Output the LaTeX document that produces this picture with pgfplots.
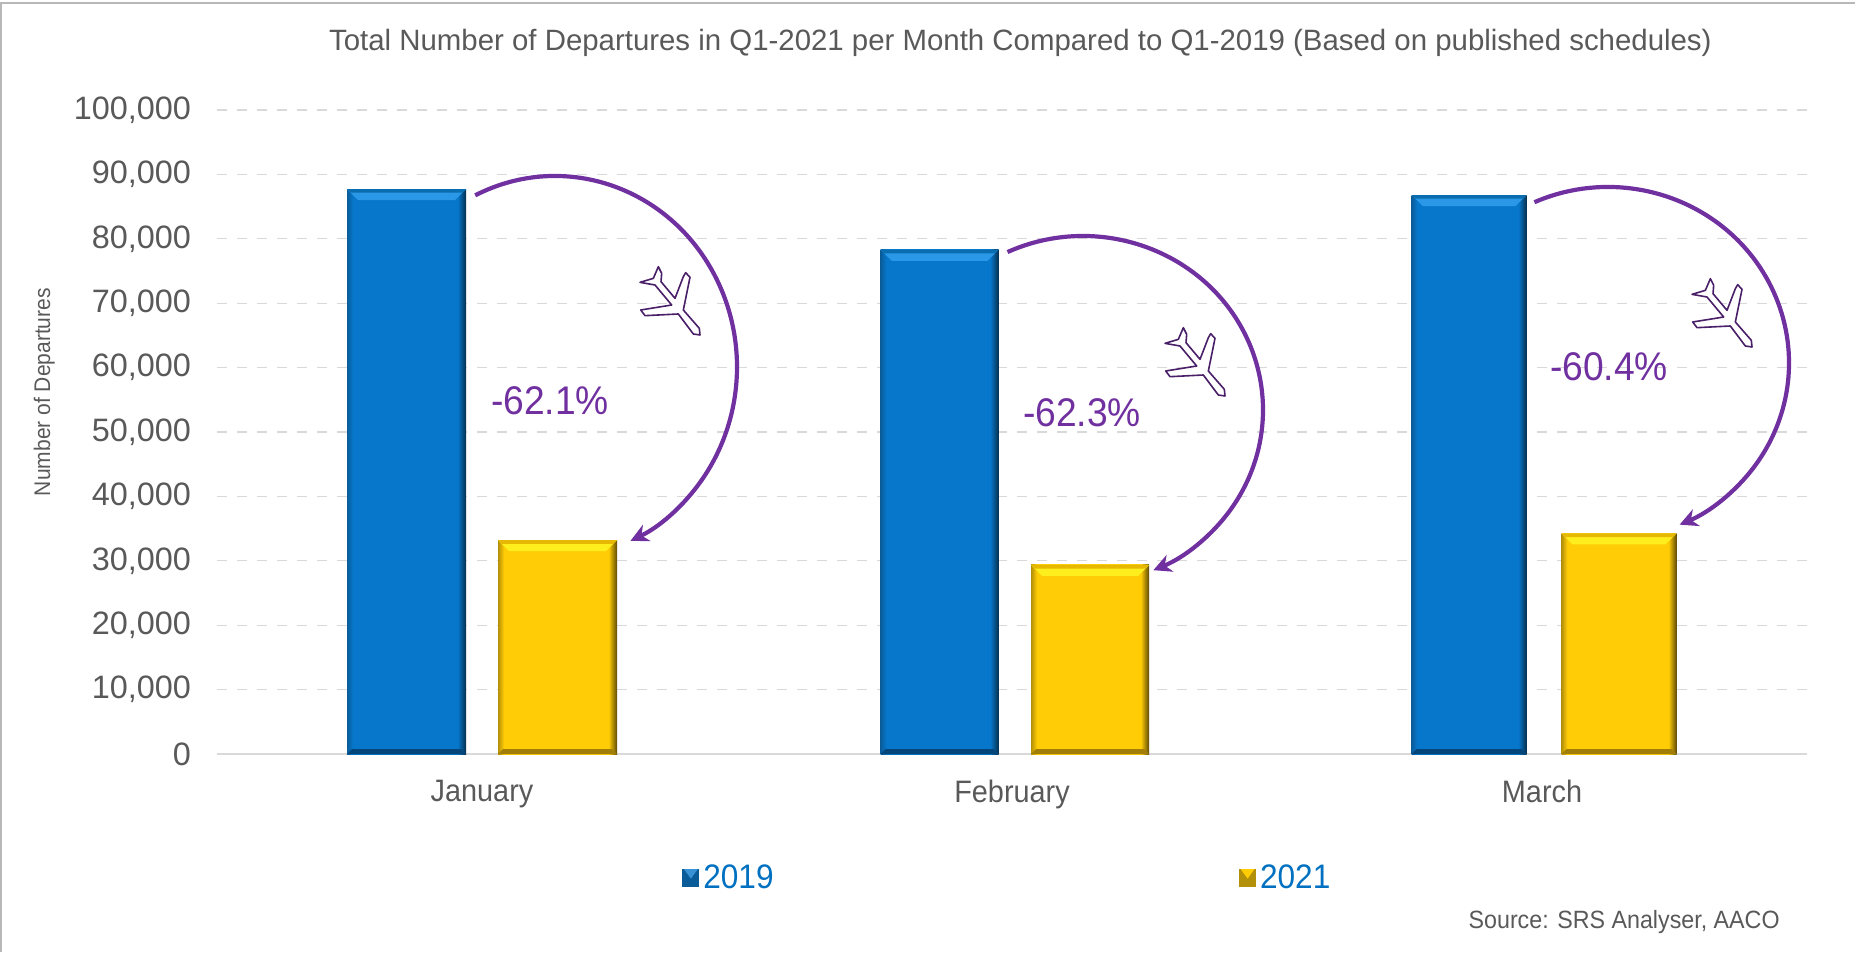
\documentclass[border=0pt]{standalone}
\usepackage{pgfplots}
\pgfplotsset{compat=1.18}
\usetikzlibrary{arrows.meta}
\usepackage{fontspec}
\setmainfont[FakeStretch=0.93]{Liberation Sans}
\newfontfamily\tickfont{Liberation Sans}
\definecolor{txt}{HTML}{595959}
\definecolor{pur}{HTML}{7030A0}
\definecolor{lblue}{HTML}{0070C0}
\definecolor{bA}{HTML}{0A5C99}
\definecolor{bB}{HTML}{0777CB}
\definecolor{bC}{HTML}{06304F}
\definecolor{bT}{HTML}{2A98E6}
\definecolor{bE}{HTML}{0A6DB0}
\definecolor{bU}{HTML}{04467A}
\definecolor{yA}{HTML}{B3900A}
\definecolor{yB}{HTML}{FFCC05}
\definecolor{yC}{HTML}{5E4A05}
\definecolor{yT}{HTML}{FFEE1E}
\definecolor{yE}{HTML}{E6B804}
\definecolor{yU}{HTML}{A07E08}
\pgfdeclarehorizontalshading{bluebar}{100bp}{
 color(0bp)=(bA); color(25bp)=(bA); color(27.5bp)=(bB); color(71.5bp)=(bB); color(75bp)=(bC); color(100bp)=(bC)}
\pgfdeclarehorizontalshading{yellowbar}{100bp}{
 color(0bp)=(yA); color(25bp)=(yA); color(27.5bp)=(yB); color(71.5bp)=(yB); color(75bp)=(yC); color(100bp)=(yC)}
% x, value, shift (pt), width (pt), shading, top colour, bottom colour, top edge colour
\newcommand{\bevelbar}[8]{%
 \addplot[ybar,bar width=#4pt,bar shift=#3pt,draw=none,shade,shading=#5,forget plot] coordinates {(#1,#2)};
 \fill[#6] ([xshift={(#3-#4/2)*1pt}]axis cs:#1,#2) -- ([xshift={(#3+#4/2)*1pt}]axis cs:#1,#2)
  -- ([xshift={(#3+#4/2-5.5)*1pt},yshift=-5.5pt]axis cs:#1,#2) -- ([xshift={(#3-#4/2+5.5)*1pt},yshift=-5.5pt]axis cs:#1,#2) -- cycle;
 \fill[#8] ([xshift={(#3-#4/2)*1pt}]axis cs:#1,#2) -- ([xshift={(#3+#4/2)*1pt}]axis cs:#1,#2)
  -- ([xshift={(#3+#4/2-1.8)*1pt},yshift=-1.8pt]axis cs:#1,#2) -- ([xshift={(#3-#4/2+1.8)*1pt},yshift=-1.8pt]axis cs:#1,#2) -- cycle;
 \fill[#7] ([xshift={(#3-#4/2)*1pt}]axis cs:#1,0) -- ([xshift={(#3+#4/2)*1pt}]axis cs:#1,0)
  -- ([xshift={(#3+#4/2-2.5)*1pt},yshift=2.5pt]axis cs:#1,0) -- ([xshift={(#3-#4/2+2.5)*1pt},yshift=2.5pt]axis cs:#1,0) -- cycle;
}
\newcommand{\plane}[2]{%
 \begin{scope}[shift={(#1,#2)},x=0.1666pt,y=-0.1666pt]
 \filldraw[fill=white,draw=pur!65!black,line width=0.8pt,line join=round]
 (-35,-100)--(-25,-80)--(-27,-55)--(15,-5)--(40,-70)--(47,-82)--(60,-68)--(40,30)--(88,85)--(90,105)--(70,102)--(25,42)--(-75,47)--(-88,30)--(5,15)--(-45,-45)--(-90,-53)--(-50,-65)--cycle;
 \end{scope}}
\newcommand{\arcarrow}[6]{%
 \draw[color=pur,line width=2.1pt,-{Stealth[length=9pt,width=9pt]}]
  ({#1+#3*cos(#5)},{#2-#4*sin(#5)}) arc[start angle=#5,end angle=#6,x radius={#3*0.5pt},y radius={#4*0.5pt}];}
\begin{document}
\begin{tikzpicture}
\path[use as bounding box] (0,0) rectangle (927.5pt,-476pt);
\begin{axis}[at={(108.5pt,-377pt)},anchor=south west,
 width=795pt,height=322pt,scale only axis,
 xmin=-0.5,xmax=2.5,ymin=0,ymax=100000,
 axis x line=bottom,axis y line=left,
 x axis line style={-,color=black!15,line width=1pt},
 y axis line style={draw=none},
 ytick={0,10000,...,100000},xtick={0,1,2},
 xticklabels={January,February,March},
 major tick length=0pt,
 ymajorgrids,grid style={color=black!15,line width=0.6pt,dash pattern=on 5pt off 5pt},
 scaled y ticks=false,
 /pgf/number format/.cd,fixed,precision=0,1000 sep={,},assume math mode=true,/pgfplots/.cd,
 yticklabel style={font=\tickfont\fontsize{16.2}{18}\selectfont,text=txt,xshift=-9.5pt},
 xticklabel style={font=\fontsize{15.5}{17}\selectfont,text=txt,yshift=-9.5pt},
 clip=false,
 title={Total Number of Departures in Q1-2021 per Month Compared to Q1-2019 (Based on published schedules)},
 title style={at={(axis description cs:0.5053,1.0745)},anchor=base,yshift=0pt,text=txt,font=\tickfont\fontsize{14.7}{16}\selectfont},
 ylabel={Number of Departures},
 ylabel style={at={(axis description cs:-0.1086,0.562)},anchor=center,rotate=0,text=txt,font=\fontsize{11.3}{13}\selectfont},
 legend columns=2,
 legend style={at={(axis description cs:0.2925,-0.1925)},anchor=west,draw=none,fill=none,inner sep=0pt,
   font=\fontsize{17}{19}\selectfont,text=lblue,
   /tikz/every even column/.style={column sep=230.8pt}},
 legend cell align=left,
 ]
\bevelbar{0}{87730}{-37.75}{59.5}{bluebar}{bT}{bU}{bE}
\bevelbar{0}{33200}{37.75}{59.5}{yellowbar}{yT}{yU}{yE}
\bevelbar{1}{78300}{-36.25}{59}{bluebar}{bT}{bU}{bE}
\bevelbar{1}{29350}{39}{59}{yellowbar}{yT}{yU}{yE}
\bevelbar{2}{86800}{-36.5}{57.5}{bluebar}{bT}{bU}{bE}
\bevelbar{2}{34250}{38.5}{57.5}{yellowbar}{yT}{yU}{yE}
\addlegendimage{legend image code/.code={\fill[bA] (-1.2pt,-4.2pt) rectangle (6.8pt,4.2pt);\fill[bB!80!white] (-0.2pt,4.2pt)--(5.8pt,4.2pt)--(2.8pt,0pt)--cycle;}}
\addlegendentry{2019}
\addlegendimage{legend image code/.code={\fill[yA] (-1.2pt,-4.2pt) rectangle (6.8pt,4.2pt);\fill[yB] (-0.2pt,4.2pt)--(5.8pt,4.2pt)--(2.8pt,0pt)--cycle;}}
\addlegendentry{2021}
\end{axis}
\begin{scope}[x=0.5pt,y=-0.5pt]
\draw[color=black!28,line width=1pt] (1,952) -- (1,3) -- (1855,3);
\arcarrow{555}{367}{182}{191}{116}{-65.5}
\arcarrow{1083}{410}{180}{174}{114.8}{-67}
\arcarrow{1608}{363}{181}{176}{114}{-66.7}
\plane{670}{300}
\plane{1195}{361}
\plane{1722}{312}
\node[text=pur,font=\fontsize{20}{22}\selectfont] at (550,401) {-62.1\%};
\node[text=pur,font=\fontsize{20}{22}\selectfont] at (1082,413) {-62.3\%};
\node[text=pur,font=\fontsize{20}{22}\selectfont] at (1609,367) {-60.4\%};
\node[anchor=base east,inner sep=0pt,text=txt,font=\fontsize{12.5}{14}\selectfont] at (1780,928) {Source: SRS Analyser, AACO};
\end{scope}
\end{tikzpicture}
\end{document}
